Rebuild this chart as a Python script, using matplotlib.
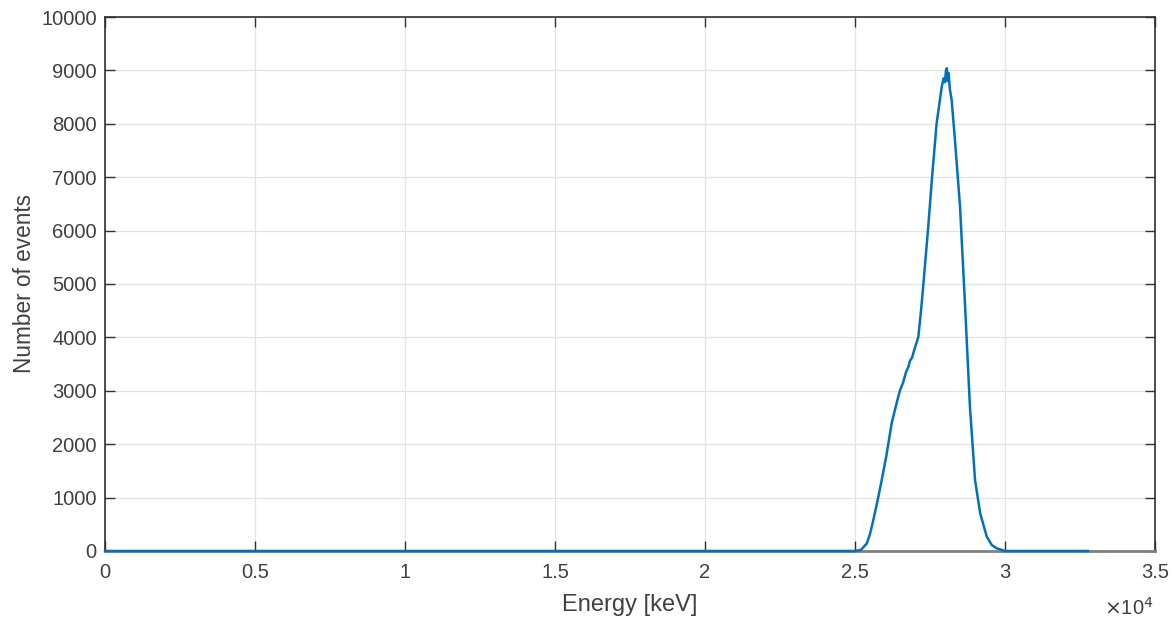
import matplotlib.pyplot as plt
from matplotlib.ticker import FuncFormatter

plt.rcParams['font.family'] = ['Liberation Sans', 'DejaVu Sans']

# spectrum (keV, counts)
energy = [0, 25000, 25200, 25390, 25500, 25610, 25780, 25890, 26050, 26220,
          26400, 26500, 26600, 26700, 26780, 26830, 26900, 26950, 27110, 27200,
          27280, 27440, 27560, 27720, 27890, 27950, 28000, 28030, 28060, 28090,
          28120, 28160, 28220, 28330, 28500, 28670, 28830, 29000, 29170, 29390,
          29560, 29720, 30000, 32768]
counts = [0, 0, 20, 140, 320, 580, 1020, 1330, 1800, 2390,
          2800, 3010, 3150, 3350, 3450, 3560, 3620, 3720, 4010, 4500,
          5010, 6070, 6950, 8010, 8690, 8850, 8780, 9000, 9040, 8800,
          8950, 8650, 8450, 7700, 6450, 4570, 2700, 1330, 710, 270,
          110, 50, 0, 0]

xticks = [0, 5000, 10000, 15000, 20000, 25000, 30000, 35000]
yticks = list(range(0, 10001, 1000))

fig = plt.figure(figsize=(11.75, 6.19), dpi=100)
ax = fig.add_axes([0.0894, 0.1099, 0.8936, 0.8626])

ax.plot(energy, counts, color='#0072BD', lw=1.8, clip_on=False, zorder=5)

ax.set_xlim(0, 35000)
ax.set_ylim(0, 10000)
ax.set_xticks(xticks)
ax.set_yticks(yticks)
ax.xaxis.set_major_formatter(FuncFormatter(lambda v, p: '%g' % (v / 1e4)))
ax.grid(True, color='#e3e3e3', lw=0.9)
ax.set_axisbelow(True)

tc = '#404040'
ax.tick_params(direction='in', length=7, width=1, colors='#303030', labelsize=14.5,
               top=True, right=True, labelcolor=tc)
ax.tick_params(axis='x', pad=9)
ax.tick_params(axis='y', pad=6)
for s in ax.spines.values():
    s.set_color('#303030')
    s.set_linewidth(1.2)
ax.spines['bottom'].set_color('#808080')
ax.spines['bottom'].set_linewidth(2)

ax.set_xlabel('Energy [keV]', fontsize=17, color=tc, labelpad=8.5)
ax.set_ylabel('Number of events', fontsize=16.3, color=tc, labelpad=4)
fig.text(0.940, 0.0, r'$\times$10$^4$', fontsize=14.5, color=tc, ha='left', va='bottom')

fig.savefig('out.png', dpi=100)
